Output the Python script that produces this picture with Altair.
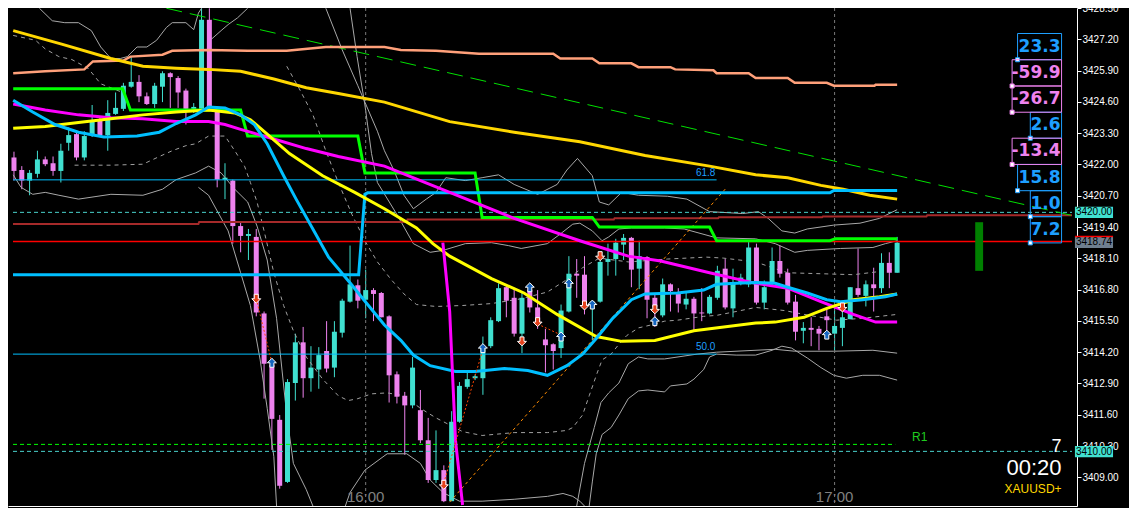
import altair as alt
import pandas as pd

# ---------------- candles (k = minutes from 16:00) ----------------
cndl_k = list(range(-45, 69))
cndl_open = [
    3422.29, 3421.77, 3421.33, 3421.61, 3422.21, 3422.05, 3421.73, 3422.90, 3423.26, 3422.29,
    3423.22, 3423.82, 3423.22, 3424.10, 3424.31, 3425.23, 3425.43, 3424.83, 3424.51, 3425.23,
    3425.79, 3425.59, 3425.07, 3424.31, 3424.31, 3428.01, 3424.26, 3421.37, 3421.33, 3419.44,
    3419.03, 3418.99, 3415.81, 3413.68, 3411.39, 3408.81, 3412.92, 3414.61, 3413.12, 3413.48,
    3414.25, 3413.56, 3415.01, 3416.30, 3416.98, 3416.38, 3416.78, 3416.66, 3415.69, 3413.28,
    3412.39, 3411.99, 3411.79, 3410.54, 3408.89, 3409.30, 3408.01, 3411.31, 3412.76, 3413.12,
    3413.12, 3414.45, 3415.49, 3416.90, 3416.46, 3414.97, 3416.78, 3416.06, 3414.73, 3414.53,
    3414.37, 3415.89, 3417.46, 3417.42, 3416.18, 3416.30, 3417.95, 3418.07, 3418.67, 3418.95,
    3417.67, 3418.15, 3416.46, 3415.73, 3417.02, 3416.66, 3416.18, 3416.42, 3415.85, 3415.81,
    3416.46, 3417.67, 3416.02, 3417.06, 3417.02, 3418.55, 3416.26, 3417.06, 3417.99, 3417.50,
    3416.30, 3415.09, 3415.21, 3415.17, 3415.69, 3414.97, 3415.21, 3415.57, 3416.86, 3416.54,
    3417.02, 3416.86, 3417.91, 3417.50]
cndl_high = [
    3422.53, 3421.93, 3421.77, 3422.57, 3422.33, 3422.33, 3422.86, 3423.54, 3423.42, 3423.38,
    3424.47, 3423.94, 3424.67, 3424.99, 3425.39, 3426.48, 3425.71, 3424.99, 3425.39, 3425.87,
    3425.83, 3425.67, 3425.15, 3424.55, 3428.49, 3428.49, 3424.35, 3422.05, 3421.37, 3419.64,
    3419.32, 3419.32, 3415.89, 3413.88, 3411.59, 3413.08, 3414.97, 3415.25, 3414.45, 3414.41,
    3415.49, 3415.49, 3416.42, 3418.63, 3417.22, 3417.63, 3416.86, 3416.70, 3415.73, 3413.40,
    3412.55, 3414.00, 3412.63, 3411.47, 3410.95, 3409.50, 3411.75, 3412.96, 3413.36, 3413.28,
    3414.85, 3415.65, 3417.06, 3416.98, 3416.86, 3416.70, 3416.90, 3416.78, 3415.17, 3414.57,
    3416.18, 3418.19, 3418.07, 3418.19, 3416.34, 3418.11, 3418.71, 3418.91, 3419.11, 3418.99,
    3418.83, 3418.19, 3416.58, 3417.26, 3417.06, 3416.86, 3416.70, 3416.50, 3416.86, 3416.58,
    3417.79, 3418.07, 3417.67, 3417.46, 3418.79, 3418.71, 3417.18, 3418.55, 3418.63, 3417.67,
    3416.58, 3415.45, 3415.65, 3415.29, 3416.06, 3416.06, 3415.89, 3416.90, 3418.51, 3417.18,
    3417.71, 3418.31, 3418.35, 3418.99]
cndl_low = [
    3421.33, 3420.97, 3420.72, 3421.45, 3421.93, 3421.53, 3421.25, 3422.57, 3422.17, 3422.17,
    3423.14, 3423.14, 3422.57, 3424.06, 3424.22, 3425.19, 3424.59, 3424.47, 3424.35, 3424.59,
    3424.35, 3424.35, 3423.66, 3424.14, 3424.26, 3424.26, 3421.05, 3420.56, 3418.71, 3418.35,
    3418.03, 3415.69, 3412.27, 3410.14, 3408.53, 3408.77, 3412.19, 3412.31, 3412.56, 3412.68,
    3413.36, 3413.16, 3414.81, 3416.26, 3416.02, 3415.61, 3415.49, 3415.65, 3412.11, 3412.07,
    3409.94, 3411.87, 3410.42, 3408.77, 3408.77, 3407.97, 3408.01, 3411.27, 3412.68, 3413.04,
    3412.43, 3414.37, 3415.45, 3415.65, 3414.85, 3414.16, 3415.85, 3415.17, 3413.36, 3413.48,
    3413.96, 3415.85, 3416.46, 3415.77, 3414.69, 3416.26, 3417.38, 3417.38, 3418.03, 3416.90,
    3416.82, 3415.61, 3415.25, 3415.65, 3415.89, 3415.85, 3415.98, 3415.09, 3415.49, 3415.77,
    3416.38, 3415.98, 3415.65, 3416.98, 3416.90, 3416.18, 3415.98, 3416.98, 3417.30, 3416.18,
    3414.69, 3414.57, 3414.45, 3414.28, 3415.05, 3414.25, 3414.45, 3415.57, 3416.50, 3416.10,
    3415.89, 3416.66, 3416.86, 3417.50]
cndl_close = [
    3421.73, 3421.33, 3421.65, 3422.21, 3422.01, 3421.73, 3422.57, 3423.22, 3422.29, 3423.18,
    3423.82, 3423.22, 3424.14, 3424.35, 3425.27, 3425.43, 3424.83, 3424.51, 3425.27, 3425.79,
    3425.63, 3424.99, 3424.31, 3424.39, 3428.01, 3424.35, 3421.37, 3421.45, 3419.44, 3419.03,
    3419.11, 3415.85, 3413.72, 3411.43, 3408.65, 3412.96, 3414.61, 3413.12, 3413.56, 3414.08,
    3413.52, 3415.05, 3416.34, 3417.02, 3416.34, 3416.78, 3416.62, 3415.65, 3413.24, 3412.35,
    3411.99, 3413.56, 3410.54, 3408.89, 3409.30, 3408.01, 3411.31, 3412.80, 3413.08, 3413.20,
    3414.45, 3415.53, 3416.86, 3416.34, 3414.97, 3416.46, 3416.06, 3415.45, 3414.49, 3414.25,
    3415.93, 3417.46, 3417.38, 3416.18, 3416.30, 3417.95, 3418.07, 3418.75, 3418.95, 3417.63,
    3418.19, 3416.38, 3416.06, 3417.02, 3416.74, 3416.22, 3416.42, 3415.81, 3415.81, 3416.50,
    3417.58, 3416.06, 3417.06, 3417.30, 3418.55, 3416.26, 3416.90, 3417.99, 3417.46, 3416.26,
    3415.05, 3415.21, 3415.13, 3414.97, 3415.53, 3415.29, 3415.65, 3416.90, 3416.58, 3417.02,
    3416.86, 3417.91, 3417.50, 3418.75]

# ---------------- moving averages (k, price) ----------------
ma_blue = [(-45.1, 3424.67), (-42.6, 3424.18), (-39.75, 3423.66), (-36.75, 3423.34), (-33.5, 3423.14),
           (-29.25, 3423.18), (-26.4, 3423.34), (-24.25, 3423.70), (-21.75, 3424.06), (-20.1, 3424.39),
           (-18, 3424.35), (-16, 3424.06), (-14.25, 3423.66), (-12.6, 3422.86), (-10.5, 3421.53),
           (-8.9, 3420.56), (-6.4, 3419.11), (-4.75, 3418.15), (-3.5, 3417.67), (-1.75, 3416.98),
           (0.25, 3416.18), (2.4, 3415.33), (4.5, 3414.69), (6.1, 3414.08), (8.25, 3413.64),
           (11.5, 3413.40), (14, 3413.40), (17.75, 3413.52), (20.75, 3413.44), (23.25, 3413.24),
           (25.75, 3413.64), (27.75, 3414.12), (29.5, 3414.77), (31.5, 3415.57), (34, 3416.38),
           (35.75, 3416.62), (39.9, 3416.66), (43.25, 3416.78), (44.9, 3417.02), (47.4, 3417.06),
           (49.9, 3417.10), (52.4, 3417.06), (54, 3416.90), (56.5, 3416.66), (59, 3416.38),
           (60.75, 3416.30), (63.6, 3416.38), (66.5, 3416.50), (68, 3416.62)]
ma_magenta = [(-45.1, 3424.51), (-41, 3424.26), (-36.75, 3424.06), (-32.6, 3423.94), (-28.5, 3423.90),
              (-24.25, 3423.78), (-20.1, 3423.78), (-18, 3423.66), (-16, 3423.46), (-11.75, 3423.06),
              (-7.6, 3422.66), (-3.5, 3422.33), (2.4, 3421.93), (10.75, 3420.84), (19, 3419.76),
              (27.4, 3418.83), (33.6, 3418.19), (37.75, 3417.99), (44, 3417.50), (49.9, 3417.06),
              (54, 3416.86), (58.25, 3416.30), (62.4, 3415.77), (65.25, 3415.45), (68, 3415.45)]
ma_yellow = [(-45.1, 3423.50), (-41, 3423.58), (-36.75, 3423.74), (-32.6, 3423.90), (-28.5, 3424.06),
             (-24.25, 3424.18), (-20.1, 3424.26), (-16.75, 3424.14), (-14.75, 3423.86), (-12.6, 3423.26),
             (-9.75, 3422.45), (-5.5, 3421.53), (-1.4, 3420.84), (2.4, 3420.16), (6.5, 3419.36),
             (8.6, 3418.71), (10.75, 3418.19), (16.1, 3417.26), (20.25, 3416.66), (24.5, 3415.77),
             (29.5, 3414.85), (32.75, 3414.65), (37, 3414.69), (42, 3415.09), (49.9, 3415.41),
             (52.4, 3415.45), (56.1, 3415.65), (59, 3416.02), (62.4, 3416.38), (65.75, 3416.50),
             (68, 3416.62)]
ma_gold = [(-45.1, 3427.56), (-38.9, 3427.00), (-32.6, 3426.40), (-28.5, 3426.08), (-24.25, 3426.00),
           (-20.1, 3425.95), (-16, 3425.87), (-11.75, 3425.55), (-7.6, 3425.19), (-3.5, 3424.95),
           (2.4, 3424.59), (10.75, 3423.78), (19, 3423.34), (27.4, 3422.94), (35.75, 3422.37),
           (44, 3421.93), (49.9, 3421.57), (54, 3421.45), (58.25, 3421.13), (61.1, 3420.97),
           (64.5, 3420.72), (68, 3420.56)]
ma_salmon = [(-45.1, 3425.79), (-41, 3425.87), (-36, 3425.95), (-34.9, 3426.28), (-31, 3426.32),
             (-30.1, 3426.48), (-26, 3426.56), (-24.75, 3426.72), (-20.1, 3426.76), (-15.1, 3426.72),
             (-10.1, 3426.72), (-5.1, 3426.88), (2.4, 3426.88), (4.5, 3426.76), (9, 3426.72),
             (14.5, 3426.60), (24, 3426.60), (24.9, 3426.40), (29, 3426.40), (29.9, 3426.20),
             (34, 3426.20), (34.9, 3426.04), (39, 3426.04), (39.6, 3425.95), (44.5, 3425.91),
             (44.9, 3425.79), (49, 3425.79), (49.9, 3425.59), (54, 3425.59), (54.9, 3425.39),
             (59, 3425.39), (59.9, 3425.27), (65.1, 3425.27), (65.25, 3425.31), (68, 3425.31)]
step_lime = [(-45.1, 3425.15), (-31.1, 3425.15), (-30.1, 3424.26), (-16, 3424.26), (-15.1, 3423.18),
             (-1, 3423.18), (-0.1, 3421.65), (14, 3421.65), (14.9, 3419.80), (29, 3419.80),
             (29.9, 3419.40), (44, 3419.40), (44.9, 3418.83), (59.4, 3418.83), (60.1, 3418.91),
             (68, 3418.91)]
step_blue = [(-45.125, 3417.42), (-0.9, 3417.42), (-0.1, 3420.76), (0.25, 3420.82), (59.4, 3420.82),
             (59.9, 3420.92), (68, 3420.92)]
level_brown = [(-45.125, 3419.53), (-21.4, 3419.53), (-21.3, 3419.61), (5.25, 3419.61), (5.35, 3419.71),
               (31.75, 3419.71), (31.85, 3419.77), (45.1, 3419.77), (45.2, 3419.81), (58.4, 3419.81),
               (58.5, 3419.84), (71.75, 3419.84), (71.85, 3419.89), (90.375, 3419.89)]
trend_green = [(-25.5, 3428.49), (90.375, 3419.88)]
fib_618 = [(-45.125, 3421.36), (44.9, 3421.36)]
fib_500 = [(-45.125, 3414.12), (44.9, 3414.12)]
level_r1 = [(-45.125, 3410.37), (67.75, 3410.37)]
level_3420 = [(-45.125, 3420.01), (90.375, 3420.01)]
level_3410 = [(-45.125, 3410.08), (90.375, 3410.08)]
level_bid = [(-45.125, 3418.80), (90.375, 3418.80)]
zz_magenta = [(9.875, 3418.75), (10.75, 3415.89), (11.125, 3413.20), (11.5, 3410.50), (12.4, 3407.85)]
diag_orange = [(10.75, 3407.97), (46.1, 3421.01)]
sig_links = [[(-14, 3416.42), (-12, 3413.76)], [(10, 3408.77), (15, 3414.32)], [(22, 3415.37), (24.9, 3414.93)]]

# ---------------- bands (gray) ----------------
gray_solid = [
    [(-41.75, 3428.49), (-40.1, 3427.97), (-38.5, 3427.89), (-36.75, 3427.89), (-35.1, 3427.56), (-33.9, 3426.88),
     (-32.6, 3426.40), (-31.4, 3426.40), (-30.5, 3426.48), (-29.25, 3426.88), (-28, 3426.88), (-26.75, 3427.16),
     (-25.5, 3427.69), (-24.75, 3427.89), (-23, 3427.89), (-22, 3427.60), (-21.4, 3428.29), (-21, 3428.49)],
    [(-19.75, 3427.20), (-18.5, 3427.56), (-17.6, 3427.81), (-16.4, 3428.09), (-15.1, 3428.49)],
    [(-5.1, 3428.49), (-3, 3426.76), (-1, 3425.27), (1.5, 3423.38), (2.4, 3422.57), (3.6, 3421.77), (4.9, 3420.72),
     (6.1, 3420.16), (7.75, 3420.56), (9, 3420.84), (10.25, 3421.45), (12.75, 3421.33), (14.9, 3421.45),
     (17, 3421.57), (19, 3421.17), (22, 3420.76), (24.5, 3421.17), (25.75, 3421.77), (27.1, 3422.25),
     (29, 3421.53), (29.9, 3420.44), (31.1, 3420.32), (32.75, 3420.84), (34.9, 3420.72), (38.6, 3420.68),
     (41.1, 3420.56), (44, 3420.04), (48.25, 3419.96), (50.25, 3420.04), (51.5, 3419.76), (53.25, 3419.24),
     (54.9, 3419.15), (56.5, 3419.32), (59.9, 3419.48), (63.25, 3419.56), (65.75, 3419.76), (68, 3420.12)],
    [(-45.1, 3421.57), (-44.1, 3421.05), (-42.6, 3420.76), (-41, 3420.84), (-39.25, 3420.72), (-36.75, 3420.56),
     (-32.6, 3420.76), (-28.5, 3420.72), (-26, 3420.97), (-24.25, 3421.37), (-21.75, 3421.65), (-20.1, 3421.93),
     (-18.5, 3421.65), (-16.75, 3420.97), (-15.1, 3420.44), (-13.9, 3419.44), (-12.6, 3418.03), (-11.4, 3415.61),
     (-10.1, 3411.59), (-9.25, 3409.58), (-7.6, 3408.49), (-6.75, 3407.81)],
    [(-21.4, 3421.05), (-20.1, 3420.72), (-17.6, 3419.24), (-16, 3417.50), (-14.75, 3416.14), (-13.5, 3413.88),
     (-12.6, 3411.87), (-11.75, 3409.86), (-11.4, 3407.81)],
    [(-2.6, 3407.81), (-2, 3408.37), (-0.1, 3409.30), (2.75, 3409.98), (5.25, 3409.98), (7, 3409.58),
     (8.25, 3408.89), (9.9, 3408.37), (12, 3408.01), (14.9, 3408.01), (19, 3408.09), (23.25, 3408.21),
     (25.25, 3408.33), (26.5, 3408.21), (27.4, 3408.01), (28, 3407.81)],
    [(28.6, 3407.81), (29, 3408.81), (29.5, 3409.98), (30.25, 3410.78), (31.4, 3411.07), (32.4, 3411.59),
     (33.6, 3412.27), (34.9, 3412.59), (36.1, 3412.63), (38.25, 3412.55), (39, 3412.80), (41.1, 3412.88),
     (42, 3413.08), (43.25, 3413.48), (44, 3414.00), (44.9, 3414.12), (47.4, 3414.08), (49.9, 3414.08),
     (52, 3414.28), (53.25, 3414.45), (54.5, 3414.37), (56.5, 3413.96), (58.25, 3413.56), (59.9, 3413.24),
     (61.5, 3413.12), (63.6, 3413.24), (65.75, 3413.24), (68, 3413.04)],
    [(27, 3407.81), (28, 3409.58), (29.25, 3411.07), (30.1, 3412.11), (31.1, 3412.51), (32.4, 3412.92),
     (33.6, 3413.72), (34.9, 3414.00), (36.1, 3413.92), (38.25, 3413.92), (42.4, 3414.12), (44.9, 3414.20),
     (52.4, 3414.32), (54.9, 3414.24), (59.9, 3414.24), (64.9, 3414.28), (68, 3414.16)],
    [(-2, 3428.49), (-1.1, 3426.48), (-0.1, 3424.47), (0.75, 3422.45), (1.5, 3421.25), (4, 3419.92),
     (6.1, 3418.71), (8.25, 3418.35), (9.9, 3418.43), (12.75, 3418.71), (16.1, 3418.75), (18.25, 3418.63),
     (19.9, 3418.51), (23.25, 3418.71), (24.9, 3419.11), (26.5, 3419.52), (27.4, 3419.56), (29, 3419.24),
     (30.25, 3418.83), (31.1, 3418.99), (32.4, 3419.32), (34, 3419.36), (38.25, 3419.36), (40.75, 3419.32),
     (44.9, 3418.95), (49.9, 3418.91), (52.4, 3418.71), (54.9, 3418.35), (56.5, 3418.43), (60.75, 3418.51),
     (64.9, 3418.55), (66.5, 3418.71), (68, 3418.83)],
]
gray_dashed = [
    [(-45.1, 3427.36), (-42.25, 3427.16), (-41, 3426.80), (-39.25, 3426.48), (-37.6, 3426.36), (-35.5, 3425.99),
     (-33.9, 3425.35), (-31.4, 3425.03)],
    [(-37.25, 3421.97), (-32.6, 3421.97), (-28.5, 3422.01), (-26.4, 3422.33), (-24.75, 3422.57), (-23, 3422.78),
     (-21.75, 3422.86), (-20.1, 3423.18), (-18, 3423.18), (-16.75, 3422.57), (-15.5, 3421.93), (-14.75, 3421.25),
     (-13.9, 3420.44), (-13, 3419.24), (-11.75, 3417.50), (-10.5, 3416.14), (-9.25, 3415.09), (-7.6, 3414.00),
     (-5.5, 3413.08), (-3.5, 3412.39), (-2.25, 3412.19), (-1, 3412.27), (0.75, 3412.47), (2.75, 3412.51),
     (4.9, 3412.39), (7, 3411.87), (9, 3411.47), (12.4, 3410.90), (14.9, 3410.74), (19, 3410.86),
     (23.25, 3410.86), (25.75, 3410.95), (26.5, 3411.07), (27.75, 3411.59), (28.6, 3412.39), (29.6, 3413.32),
     (30.25, 3413.88), (31.4, 3414.12), (32.4, 3414.53), (33.4, 3414.89), (34.9, 3415.21), (36.5, 3415.33),
     (38.25, 3415.49), (39.9, 3415.53), (43.25, 3415.69), (44.9, 3415.73), (47.4, 3415.89), (49.9, 3416.06),
     (53.6, 3415.93), (56.1, 3415.77), (60.25, 3415.53), (63.6, 3415.61), (68, 3415.77)],
    [(-10.1, 3426.08), (-8.5, 3425.15), (-6.75, 3424.06), (-5.1, 3422.57), (-3.5, 3421.25), (-1.75, 3419.92),
     (-0.1, 3418.83), (1.5, 3417.95), (3.25, 3417.22), (4.9, 3416.62), (6.5, 3416.18), (9, 3416.10),
     (12.4, 3416.14), (16.1, 3416.22), (19.9, 3416.42), (23.25, 3416.70), (25.75, 3417.22), (27.75, 3417.71),
     (29.9, 3418.11), (33.6, 3417.95), (38.6, 3418.07), (43.6, 3418.15), (45.75, 3418.11), (49.9, 3417.95),
     (52.4, 3417.67), (54, 3417.50), (58.25, 3417.46), (62.4, 3417.42), (66.5, 3417.58), (68, 3417.67)],
]

# ---------------- signals ----------------
sell_k = [-14, 10, 20, 22, 28, 30, 37, 61]
sell_p = [3416.42, 3408.69, 3414.65, 3415.45, 3416.14, 3418.19, 3415.98, 3416.06]
buy_k = [-12, 15, 21, 25, 26, 29, 37, 59]
buy_p = [3413.76, 3414.37, 3416.90, 3414.85, 3417.06, 3416.18, 3415.49, 3414.93]

# ---------------- right-side panel ----------------
box_vals = ["23.3", "-59.9", "-26.7", "2.6", "-13.4", "15.8", "1.0", "7.2"]
box_top = [3427.44, 3426.35, 3425.26, 3424.17, 3423.09, 3422.00, 3420.91, 3419.83]
box_bot = [3426.35, 3425.26, 3424.17, 3423.09, 3422.00, 3420.91, 3419.83, 3418.74]
box_left = [83.41, 82.71, 82.71, 85.04, 82.71, 83.41, 85.04, 85.04]
box_right = 89.04
tag_labels = ["3420.00", "3418.74", "3410.00"]
tag_top = [3420.24, 3419.01, 3410.30]
tag_bot = [3419.78, 3418.53, 3409.84]
tick_vals = [3409.0, 3410.3, 3411.6, 3412.9, 3414.2, 3415.5, 3416.8, 3418.1, 3419.4,
             3420.7, 3422.0, 3423.3, 3424.6, 3425.9, 3427.2, 3428.5]
time_labels = ["16:00", "17:00"]
time_k = [0, 60]

# ---------------- styling ----------------
TEAL = "#40E0D0"
PINK = "#EE82EE"
SKY = "#00BFFF"
POS = "#1E9FFF"
FONT = "Liberation Sans"
W, H = 1069, 498
XMIN, XMAX = -45.125, 90.375
YMIN, YMAX = 3407.81, 3428.50

xs = alt.Scale(domain=[XMIN, XMAX], nice=False, zero=False)
ys = alt.Scale(domain=[YMIN, YMAX], nice=False, zero=False)

y_axis = alt.Axis(orient="right", values=tick_vals, format=".2f", labelColor="#FFFFFF",
                  labelFont=FONT, labelFontSize=10, tickColor="#FFFFFF", tickSize=4,
                  domainColor="#FFFFFF", domainWidth=1, tickWidth=1, labelPadding=1,
                  grid=False, title=None, labelOverlap=False, labelFlush=False)
x_axis = alt.Axis(orient="bottom", domainColor="#FFFFFF", domainWidth=1, labels=False, ticks=False,
                  grid=False, title=None)


def ex(f="k"):
    return alt.X(f + ":Q", scale=xs, axis=x_axis)


def ey(f="p"):
    return alt.Y(f + ":Q", scale=ys, axis=y_axis)


def pts(pairs):
    return pd.DataFrame({"k": [a for a, _ in pairs], "p": [b for _, b in pairs],
                         "i": list(range(len(pairs)))})


def line(pairs, color, width, dash=None, opacity=1.0):
    props = dict(color=color, strokeWidth=width, opacity=opacity, clip=True)
    if dash is not None:
        props["strokeDash"] = dash
    return alt.Chart(pts(pairs)).mark_line(**props).encode(x=ex(), y=ey(), order="i:Q")


def multiline(groups, color, width, dash=None):
    rows = []
    for g, pairs in enumerate(groups):
        for i, (a, b) in enumerate(pairs):
            rows.append({"g": g, "i": i, "k": a, "p": b})
    props = dict(color=color, strokeWidth=width, clip=True)
    if dash is not None:
        props["strokeDash"] = dash
    return alt.Chart(pd.DataFrame(rows)).mark_line(**props).encode(
        x=ex(), y=ey(), detail="g:N", order="i:Q")


def texts(ks, ps, labels, color, size, align="center", weight="normal", font=FONT):
    df = pd.DataFrame({"k": ks, "p": ps, "t": labels})
    return alt.Chart(df).mark_text(color=color, fontSize=size, align=align, baseline="middle",
                                   fontWeight=weight, font=font).encode(x=ex(), y=ey(), text="t:N")


cdf = pd.DataFrame({"k": cndl_k, "o": cndl_open, "h": cndl_high, "l": cndl_low, "c": cndl_close})
cdf["dir"] = ["up" if c >= o else "down" for o, c in zip(cdf["o"], cdf["c"])]
ccol = alt.Color("dir:N", scale=alt.Scale(domain=["up", "down"], range=[TEAL, PINK]), legend=None)

wicks = alt.Chart(cdf).mark_rule(strokeWidth=1).encode(x=ex(), y=ey("l"), y2="h:Q", color=ccol)
bodies = alt.Chart(cdf).mark_bar(size=5).encode(x=ex(), y=ey("o"), y2="c:Q", color=ccol)

separators = alt.Chart(pd.DataFrame({"k": time_k})).mark_rule(
    color="#7A7A7A", strokeWidth=1, strokeDash=[3, 3]).encode(x=ex())

# arrows
down_arrow = "M-0.45,-1 L0.45,-1 L0.45,0 L1,0 L0,1 L-1,0 L-0.45,0 Z"
up_arrow = "M-0.45,1 L0.45,1 L0.45,0 L1,0 L0,-1 L-1,0 L-0.45,0 Z"
sells = alt.Chart(pd.DataFrame({"k": sell_k, "p": sell_p})).mark_point(
    shape=down_arrow, size=80, filled=True, fill="#E5421C", stroke="#FFFFFF", strokeWidth=1,
    opacity=1).encode(x=ex(), y=ey())
buys = alt.Chart(pd.DataFrame({"k": buy_k, "p": buy_p})).mark_point(
    shape=up_arrow, size=80, filled=True, fill="#1565C0", stroke="#FFFFFF", strokeWidth=1,
    opacity=1).encode(x=ex(), y=ey())

# number boxes
bdf = pd.DataFrame({"t": box_vals, "top": box_top, "bot": box_bot, "left": box_left})
bdf["right"] = box_right
bdf["mid"] = (bdf["top"] + bdf["bot"]) / 2
bdf["neg"] = bdf["t"].str.startswith("-")
box_layers = []
for is_neg, col in [(False, POS), (True, PINK)]:
    sub = bdf[bdf["neg"] == is_neg]
    box_layers.append(alt.Chart(sub).mark_rect(fillOpacity=0, stroke=col, strokeWidth=1).encode(
        x=ex("left"), x2="right:Q", y=ey("top"), y2="bot:Q"))
    box_layers.append(alt.Chart(sub).mark_text(
        color=col, fontSize=17, fontWeight="bold", font="DejaVu Sans", align="right",
        baseline="middle", dx=-1).encode(x=ex("right"), y=ey("mid"), text="t:N"))
    box_layers.append(alt.Chart(sub).mark_point(
        shape="square", size=16, filled=True, fill="#FFFFFF", stroke=col, strokeWidth=1,
        opacity=1).encode(x=ex("left"), y=ey("bot")))

# price tags on the axis
tdf = pd.DataFrame({"t": tag_labels, "top": tag_top, "bot": tag_bot})
tdf["l"] = 90.75
tdf["r"] = 95.625
tdf["mid"] = (tdf["top"] + tdf["bot"]) / 2
tdf["kc"] = (tdf["l"] + tdf["r"]) / 2
tag_teal = alt.Chart(tdf[tdf["t"] != "3418.74"]).mark_rect(color=TEAL).encode(
    x=ex("l"), x2="r:Q", y=ey("top"), y2="bot:Q")
tag_gray = alt.Chart(tdf[tdf["t"] == "3418.74"]).mark_rect(color="#6F7F8F").encode(
    x=ex("l"), x2="r:Q", y=ey("top"), y2="bot:Q")
tag_redtop = alt.Chart(tdf[tdf["t"] == "3418.74"]).mark_rule(color="#FF0000", strokeWidth=1.5).encode(
    x=ex("l"), x2="r:Q", y=ey("top"))
tag_text = alt.Chart(tdf).mark_text(color="#000000", fontSize=10, font=FONT, align="center",
                                    baseline="middle").encode(x=ex("kc"), y=ey("mid"), text="t:N")

green_bar = alt.Chart(pd.DataFrame({"k1": [77.99], "k2": [79.0], "p1": [3419.60], "p2": [3417.58]})).mark_rect(
    color="#008000").encode(x=ex("k1"), x2="k2:Q", y=ey("p1"), y2="p2:Q")

layers = [
    wicks,
    multiline(gray_solid, "#A8A8A8", 1),
    multiline(gray_dashed, "#A0A0A0", 1, dash=[4, 4]),
    separators,
    bodies,
    line(fib_618, SKY, 1),
    line(fib_500, SKY, 1),
    line(level_r1, "#00FF00", 1, dash=[4, 3]),
    line(level_3410, "#48D1CC", 1, dash=[4, 3]),
    line(level_3420, "#48D1CC", 1, dash=[4, 3]),
    line(level_brown, "#A52A2A", 2),
    line(level_bid, "#FF0000", 1.5),
    line(trend_green, "#00E000", 1, dash=[16, 8]),
    line(diag_orange, "#FF8C00", 1, dash=[3, 3]),
    line(ma_salmon, "#FFA07A", 2.5),
    line(ma_gold, "#FFD700", 3),
    line(step_lime, "#00FF00", 3),
    line(step_blue, SKY, 3),
    line(ma_magenta, "#FF00FF", 3),
    line(ma_yellow, "#FFFF00", 3),
    line(ma_blue, SKY, 3),
    line(zz_magenta, "#FF00FF", 3),
    multiline(sig_links, "#FF4500", 1, dash=[2, 2]),
    sells,
    buys,
    texts([44.75, 44.75], [3421.65, 3414.41], ["61.8", "50.0"], POS, 10, align="right"),
    texts([69.9], [3410.66], ["R1"], "#1FCC1F", 12, align="left"),
    texts(time_k, [3408.17, 3408.17], time_labels, "#808080", 15),
    texts([89.04], [3410.26], ["7"], "#FFFFFF", 18, align="right"),
    texts([89.04], [3409.38], ["00:20"], "#FFFFFF", 22, align="right"),
    texts([89.04], [3408.53], ["XAUUSD+"], "#FFD700", 12, align="right"),
    green_bar,
] + box_layers + [tag_teal, tag_gray, tag_redtop, tag_text]

chart = alt.layer(*layers).properties(
    width=W, height=H, background="#000000",
    padding={"left": 0, "top": 0, "right": 52, "bottom": 2},
    autosize=alt.AutoSizeParams(type="none"),
).configure_view(strokeWidth=0)

chart.save("out.html", embed_options={"renderer": "svg", "actions": False})
